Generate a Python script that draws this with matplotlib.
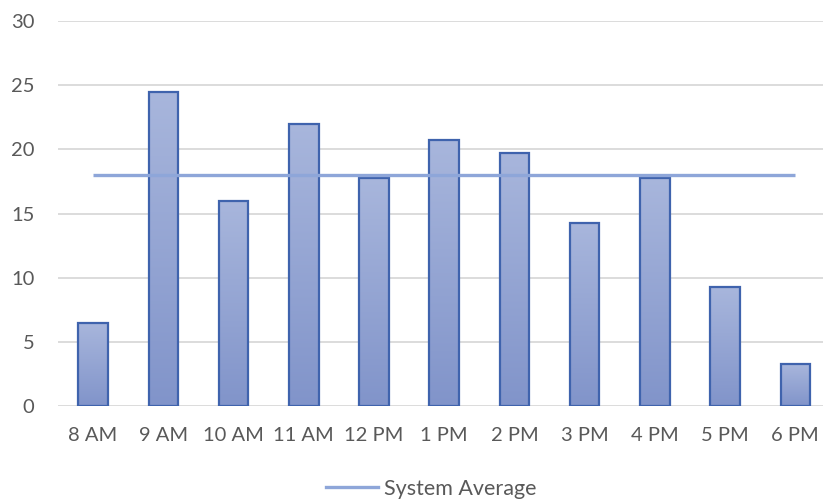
import numpy as np
import matplotlib
matplotlib.use("Agg")
import matplotlib.pyplot as plt
from matplotlib.colors import LinearSegmentedColormap
from matplotlib.lines import Line2D

hours = ["8 AM", "9 AM", "10 AM", "11 AM", "12 PM", "1 PM", "2 PM", "3 PM", "4 PM", "5 PM", "6 PM"]
values = [6.5, 24.5, 16.0, 22.0, 17.75, 20.75, 19.75, 14.25, 17.75, 9.25, 3.25]
system_average = [18.0] * len(hours)
y_ticks = [0, 5, 10, 15, 20, 25, 30]

plt.rcParams['font.family'] = ['Lato', 'DejaVu Sans']

fig = plt.figure(figsize=(8.23, 5.04), dpi=100)
ax = fig.add_axes([58 / 823, 1 - 406 / 504, 772.4 / 823, 385 / 504])

x = np.arange(len(hours))
bars = ax.bar(x, values, width=0.42, facecolor='none', edgecolor='#3f63ad', linewidth=1.6, zorder=3)

# vertical gradient inside every bar, light on top
grad_cmap = LinearSegmentedColormap.from_list('bar_grad', ['#8194ca', '#a8b6dc'])
grad = np.linspace(0, 1, 256).reshape(-1, 1)
for b in bars:
    x0, w, h = b.get_x(), b.get_width(), b.get_height()
    im = ax.imshow(grad, cmap=grad_cmap, origin='lower', aspect='auto',
                   extent=[x0, x0 + w, 0, h], zorder=2.5)
    im.set_clip_path(b)

ax.plot(x, system_average, color='#8ea6d9', linewidth=2.4, zorder=4, solid_capstyle='butt')

ax.set_xlim(-0.5, len(hours) - 0.5)
ax.set_ylim(0, 30)
ax.set_yticks(y_ticks)
ax.set_xticks(x)
ax.set_xticklabels(hours)
ax.grid(axis='y', color='#d9d9d9', linewidth=1.3, zorder=0)
ax.set_axisbelow(True)
for s in ax.spines.values():
    s.set_visible(False)
ax.tick_params(axis='both', length=0, labelsize=14.5, labelcolor='#595959')
ax.tick_params(axis='x', pad=15)
ax.tick_params(axis='y', pad=17)

handle = Line2D([], [], color='#8ea6d9', linewidth=2.4)
fig.legend([handle], ['System Average'], loc='center', bbox_to_anchor=(431 / 823, 1 - 489 / 504),
           frameon=False, fontsize=15.5, labelcolor='#595959', handlelength=2.45, handletextpad=0.25)

fig.savefig('out.png', dpi=100)
